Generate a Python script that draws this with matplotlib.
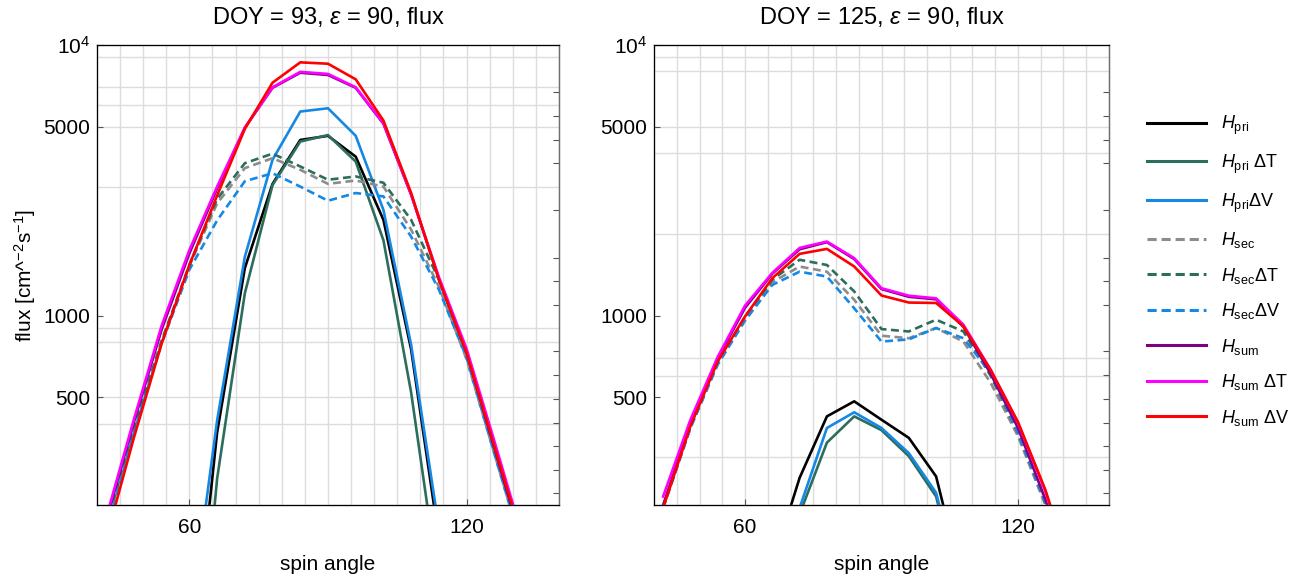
import numpy as np
import matplotlib
matplotlib.use("Agg")
import matplotlib.pyplot as plt
from matplotlib.lines import Line2D

plt.rcParams["font.family"] = ["Liberation Sans", "DejaVu Sans"]
plt.rcParams["mathtext.fontset"] = "custom"
plt.rcParams["mathtext.rm"] = "Liberation Sans"
plt.rcParams["mathtext.it"] = "Liberation Sans:italic"
plt.rcParams["mathtext.bf"] = "Liberation Sans:bold"

nan = np.nan
angle = [42, 48, 54, 60, 66, 72, 78, 84, 90, 96, 102, 108, 114, 120, 126, 132, 138]

# DOY 93
l_pri     = [nan, nan, nan, 40, 370, 1500, 3070, 4460, 4620, 3870, 2260, 750, 150, nan, nan, nan, nan]
l_pri_dT  = [nan, nan, nan, 20, 250, 1210, 3040, 4400, 4650, 3710, 1900, 520, 100, nan, nan, nan, nan]
l_pri_dV  = [nan, nan, nan, 70, 410, 1650, 3770, 5680, 5840, 4620, 2460, 780, 165, nan, nan, nan, nan]
l_sec     = [165, 375, 800, 1530, 2600, 3510, 3820, 3460, 3070, 3160, 3000, 2080, 1280, 690, 310, 140, nan]
l_sec_dT  = [168, 385, 810, 1540, 2700, 3660, 3970, 3560, 3180, 3270, 3100, 2260, 1360, 720, 320, 145, nan]
l_sec_dV  = [160, 370, 790, 1480, 2250, 3140, 3360, 3000, 2660, 2840, 2760, 1960, 1250, 700, 310, 140, nan]
l_sum     = [175, 405, 890, 1700, 2950, 4950, 6950, 7900, 7750, 6950, 5120, 2800, 1370, 730, 325, 145, nan]
l_sum_dT  = [180, 415, 920, 1750, 3000, 4950, 6980, 7960, 7820, 6980, 5140, 2800, 1390, 755, 345, 155, nan]
l_sum_dV  = [150, 355, 790, 1540, 2780, 4900, 7260, 8630, 8530, 7470, 5260, 2840, 1360, 728, 330, 150, nan]

# DOY 125
r_pri     = [nan, nan, nan, nan, 120, 252, 425, 483, 413, 354, 255, 100, nan, nan, nan, nan, nan]
r_pri_dT  = [nan, nan, nan, nan, 70, 185, 340, 425, 378, 303, 215, 85, nan, nan, nan, nan, nan]
r_pri_dV  = [nan, nan, nan, nan, 80, 195, 385, 440, 385, 311, 222, 90, nan, nan, nan, nan, nan]
r_sec     = [195, 385, 670, 980, 1330, 1520, 1455, 1146, 844, 826, 901, 803, 565, 359, 200, 100, nan]
r_sec_dT  = [197, 390, 675, 990, 1360, 1610, 1540, 1230, 893, 875, 967, 875, 600, 370, 205, 100, nan]
r_sec_dV  = [195, 385, 660, 960, 1300, 1455, 1396, 1066, 803, 818, 901, 826, 615, 370, 205, 100, nan]
r_sum     = [200, 400, 695, 1070, 1430, 1760, 1870, 1620, 1255, 1175, 1150, 910, 610, 385, 210, 100, nan]
r_sum_dT  = [215, 413, 705, 1090, 1440, 1780, 1880, 1633, 1264, 1186, 1160, 927, 632, 402, 225, 110, nan]
r_sum_dV  = [195, 391, 678, 994, 1377, 1693, 1766, 1521, 1188, 1119, 1115, 914, 630, 405, 228, 110, nan]

labels = [r"$H_{\mathrm{pri}}$", r"$H_{\mathrm{pri}}$ $\Delta$T", r"$H_{\mathrm{pri}}$$\Delta$V",
          r"$H_{\mathrm{sec}}$", r"$H_{\mathrm{sec}}$$\Delta$T", r"$H_{\mathrm{sec}}$$\Delta$V",
          r"$H_{\mathrm{sum}}$", r"$H_{\mathrm{sum}}$ $\Delta$T", r"$H_{\mathrm{sum}}$ $\Delta$V"]
colors = ["#000000", "#2c6e5d", "#1588e6", "#8c8c8c", "#2c6e5d", "#1588e6", "#800080", "#ff00ff", "#ff0000"]
styles = ["-", "-", "-", "--", "--", "--", "-", "-", "-"]

panels = [
    ("DOY = 93, $\\varepsilon$ = 90, flux",
     [l_pri, l_pri_dT, l_pri_dV, l_sec, l_sec_dT, l_sec_dV, l_sum, l_sum_dT, l_sum_dV],
     [400, 500, 800, 900, 3000, 5000, 6000, 7000, 9000]),
    ("DOY = 125, $\\varepsilon$ = 90, flux",
     [r_pri, r_pri_dT, r_pri_dV, r_sec, r_sec_dT, r_sec_dV, r_sum, r_sum_dT, r_sum_dV],
     [300, 600, 700, 2000, 4000, 5000, 8000, 9000]),
]
right_ticks = [222, 270, 330, 403, 493, 602, 738, 1099, 1340, 1641, 2456, 3657, 4475, 5470, 6706]

fig = plt.figure(figsize=(13.07, 5.81), dpi=100)
boxes = [[0.0742, 0.1308, 0.3535, 0.7917], [0.5004, 0.1308, 0.3481, 0.7917]]

for box, (title, series, hgrid) in zip(boxes, panels):
    ax = fig.add_axes(box)
    ax.set_yscale("log")
    for xg in range(45, 140, 5):
        ax.axvline(xg, color="#dcdcdc", lw=1.0, zorder=0)
    for yg in hgrid:
        ax.axhline(yg, color="#dcdcdc", lw=1.0, zorder=0)
    for ys, c, ls in zip(series, colors, styles):
        ax.plot(angle, ys, color=c, ls=ls, lw=1.9, dashes=(3, 1.7) if ls == "--" else (None, None))
    ax.set_xlim(40, 140)
    ax.set_ylim(200, 10000)
    ax.set_xticks([60, 120])
    ax.set_yticks([500, 1000, 5000, 10000])
    ax.set_yticklabels(["500", "1000", "5000", "$10^4$"])
    ax.minorticks_off()
    ax.tick_params(direction="in", length=4, width=0.8, color="#555555", labelsize=15, pad=5)
    ax.tick_params(axis="x", pad=9)
    for s in ax.spines.values():
        s.set_color("#6e6e6e")
        s.set_linewidth(1.0)
    ax.set_title(title, fontsize=17, pad=15)
    ax.set_xlabel("spin angle", fontsize=15, labelpad=13)
    tw = ax.twinx()
    tw.set_yscale("log")
    tw.set_ylim(200, 10000)
    tw.set_yticks(right_ticks)
    tw.minorticks_off()
    tw.tick_params(direction="in", length=4, width=0.8, color="#555555", labelright=False)
    tw.spines["right"].set_color("#6e6e6e")
    if box is boxes[0]:
        ax.set_ylabel(r"flux [cm^$^{-2}$s$^{-1}$]", fontsize=15, labelpad=4)

handles = [Line2D([], [], color=c, ls=ls, lw=2.2, dashes=(3, 1.6) if ls == "--" else (None, None))
           for c, ls in zip(colors, styles)]
fig.legend(handles, labels, loc="upper left", bbox_to_anchor=(0.865, 0.832), frameon=False,
           fontsize=13, handlelength=3.3, handletextpad=0.8, labelspacing=0.86)

fig.savefig("out.png", dpi=100)
